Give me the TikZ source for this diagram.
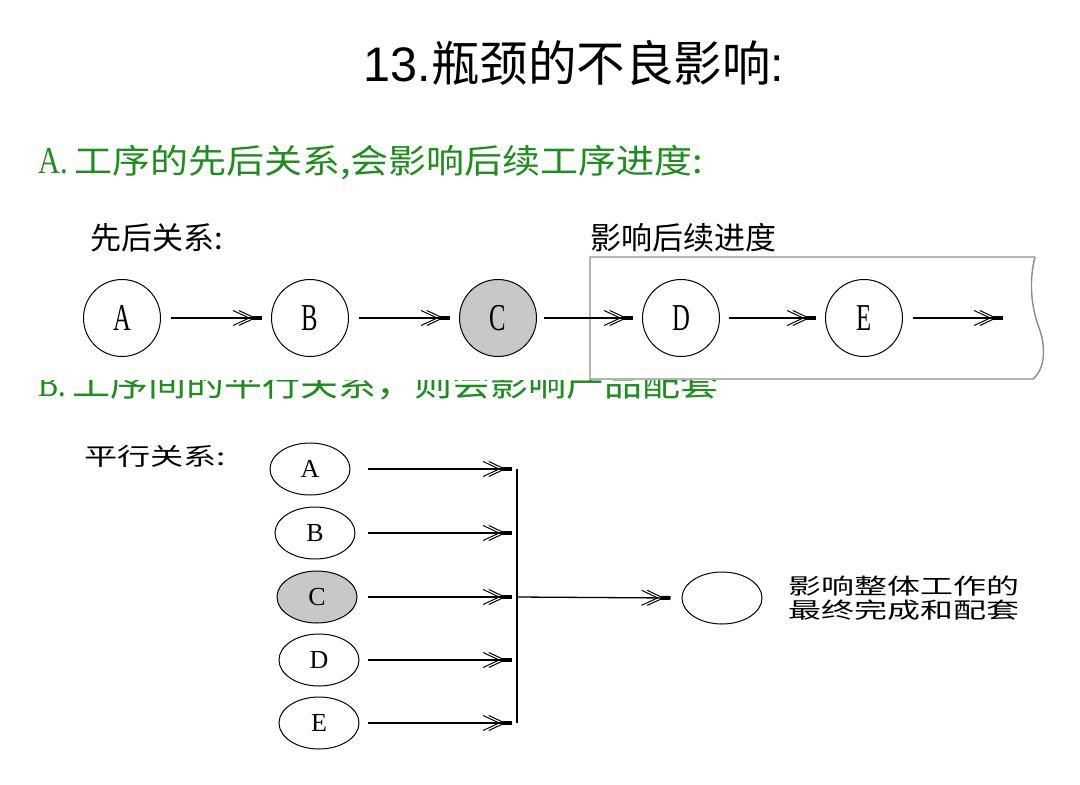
\documentclass[tikz,border=0pt]{standalone}
\usepackage{fontspec}
\usepackage{graphicx}
\setmainfont{Liberation Serif}
\newfontfamily\cjk{Noto Sans CJK SC}
\newfontfamily\arial{Liberation Sans}
\usetikzlibrary{arrows.meta,shapes.geometric}
\definecolor{grn}{RGB}{30,140,30}
\definecolor{cgray}{RGB}{200,200,200}
\definecolor{boxgray}{RGB}{140,140,140}
\tikzset{
  ftip/.tip={Straight Barb[length=16pt,width=15pt,line width=1pt,sep=-12pt]Straight Barb[length=16pt,width=15pt,line width=1pt,sep=-4pt]Rectangle[length=10pt,width=4pt]},
}
\begin{document}
\begin{tikzpicture}[x=1pt,y=-1pt,
  circ/.style={circle,draw=black,line width=1pt,minimum size=77pt,inner sep=0pt,font=\fontsize{38}{38}\selectfont},
  ell/.style={ellipse,draw=black,line width=1pt,minimum width=80pt,minimum height=52pt,inner sep=0pt,font=\fontsize{26}{26}\selectfont},
  flow/.style={line width=1.3pt,-{ftip}},
  label/.style={inner sep=0pt,anchor=west},
]
\useasboundingbox[fill=white] (0,0) rectangle (1080,785);
% title
\node[inner sep=0pt] (title) at (574,63) {\fontsize{48.5}{48.5}\selectfont\arial 13.\cjk 瓶颈的不良影响\arial :};
% section A heading
\node[label,text=grn] (headA) at (38,163) {\fontsize{38}{38}\selectfont\scalebox{0.8}[1]{A.}\,\cjk\scalebox{1}[0.88]{工序的先后关系,会影响后续工序进度:}};
% section B heading (its upper part hidden under the picture above)
\begin{scope}
\clip (0,380) rectangle (1080,420);
\node[label,text=grn] (headB) at (38,384) {\fontsize{38}{38}\selectfont\scalebox{0.8}[1]{B.}\,\cjk\scalebox{1}[0.88]{工序间的平行关系，则会影响产品配套}};
\end{scope}
% sequential diagram
\node[label] (seqlbl) at (90,238) {\fontsize{31}{31}\selectfont\cjk 先后关系:};
\node[label] (efflbl) at (590,238) {\fontsize{31}{31}\selectfont\cjk 影响后续进度};
\draw[boxgray,line width=1.4pt] (1035,257) -- (590,257) -- (590,379) -- (1033,379)
  .. controls (1046,368) and (1046,345) .. (1038,325)
  .. controls (1031,305) and (1029,280) .. (1035,257);
\node[circ] (A) at (122,318) {\scalebox{0.65}[1]{A}};
\node[circ] (B) at (310,318) {\scalebox{0.65}[1]{B}};
\node[circ,fill=cgray] (C) at (498,318) {\scalebox{0.65}[1]{C}};
\node[circ] (D) at (681,318) {\scalebox{0.65}[1]{D}};
\node[circ] (E) at (864,318) {\scalebox{0.65}[1]{E}};
\coordinate (Eend) at (1003,318);
\draw[flow] ([xshift=10pt]A.east) -- ([xshift=-9pt]B.west);
\draw[flow] ([xshift=10pt]B.east) -- ([xshift=-9pt]C.west);
\draw[flow] ([xshift=7pt]C.east) -- ([xshift=-9pt]D.west);
\draw[flow] ([xshift=9pt]D.east) -- ([xshift=-9pt]E.west);
\draw[flow] ([xshift=10pt]E.east) -- (Eend);
% parallel diagram
\node[label] (parlbl) at (84,456) {\fontsize{24}{24}\selectfont\cjk\scalebox{1.38}[1]{平行关系:}};
\node[ell] (pA) at (310,469) {A};
\node[ell] (pB) at (315,533) {B};
\node[ell,fill=cgray] (pC) at (317,597) {C};
\node[ell] (pD) at (319,660) {D};
\node[ell] (pE) at (319,723) {E};
\coordinate (sx) at (368,0);
\coordinate (bA) at (517,469);
\coordinate (bB) at (517,533);
\coordinate (bC) at (517,597);
\coordinate (bD) at (517,660);
\coordinate (bE) at (517,723);
\draw[line width=1.6pt] (bA) -- (bE);
\foreach \n in {A,B,C,D,E}{
  \draw[flow] (p\n.east -| sx) -- ([xshift=-5pt]b\n);
}
\node[ell] (out) at (722,598) {};
\draw[flow] (bC) -- ([xshift=-11pt]out.west);
\node[label,align=left,font=\fontsize{22}{24}\selectfont\cjk] (outlbl) at (788,598) {\scalebox{1.5}[1]{影响整体工作的}\\\scalebox{1.5}[1]{最终完成和配套}};
\end{tikzpicture}
\end{document}
